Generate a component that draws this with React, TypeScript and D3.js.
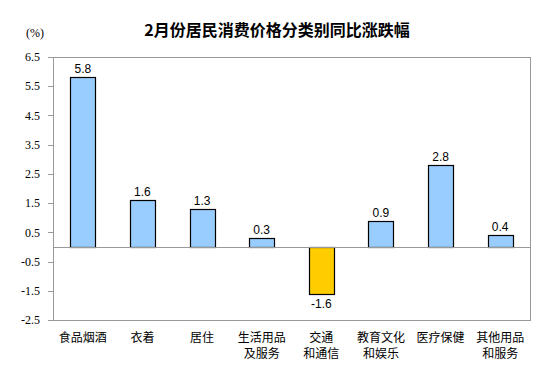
import React, { useEffect, useRef } from 'react';
import * as d3 from 'd3';

const categories = ['食品烟酒', '衣着', '居住', '生活用品\n及服务', '交通\n和通信', '教育文化\n和娱乐', '医疗保健', '其他用品\n和服务'];
const values = [5.8, 1.6, 1.3, 0.3, -1.6, 0.9, 2.8, 0.4];
const yTicks = [6.5, 5.5, 4.5, 3.5, 2.5, 1.5, 0.5, -0.5, -1.5, -2.5];

const App: React.FC = () => {
  const svgRef = useRef<SVGSVGElement>(null);

  useEffect(() => {
    if (!svgRef.current) return;

    const width = 553;
    const height = 384;
    const margin = { top: 57, right: 23, bottom: 64, left: 53 };

    const svg = d3.select(svgRef.current)
      .attr('width', width)
      .attr('height', height)
      .html('');

    const x = d3.scaleBand<string>()
      .domain(categories)
      .range([margin.left, width - margin.right])
      .paddingInner(0.58)
      .paddingOuter(0.29);

    const y = d3.scaleLinear()
      .domain([-2.5, 6.5])
      .range([height - margin.bottom, margin.top]);

    // plot frame
    svg.append('rect')
      .attr('x', margin.left + 0.5)
      .attr('y', y(6.5) + 0.5)
      .attr('width', width - margin.right - margin.left)
      .attr('height', y(-2.5) - y(6.5))
      .attr('fill', 'none')
      .attr('stroke', '#999');

    // y axis ticks
    const yAxis = svg.append('g');
    yAxis.selectAll('line')
      .data(yTicks)
      .enter().append('line')
      .attr('x1', margin.left - 5)
      .attr('x2', margin.left)
      .attr('y1', d => Math.round(y(d)) + 0.5)
      .attr('y2', d => Math.round(y(d)) + 0.5)
      .attr('stroke', '#999');

    yAxis.selectAll('text')
      .data(yTicks)
      .enter().append('text')
      .attr('x', 40)
      .attr('y', d => y(d))
      .attr('dy', '0.35em')
      .attr('text-anchor', 'end')
      .style('font-family', '"Liberation Serif", serif')
      .style('font-size', '12px')
      .attr('fill', '#000')
      .text(d => d);

    // bars
    svg.selectAll('rect.bar')
      .data(values)
      .enter().append('rect')
      .attr('class', 'bar')
      .attr('x', (_, i) => Math.round(x(categories[i])!) + 0.5)
      .attr('y', d => Math.round(y(Math.max(0, d))) + 0.5)
      .attr('width', Math.round(x.bandwidth()))
      .attr('height', d => Math.abs(Math.round(y(d)) - Math.round(y(0))))
      .attr('fill', d => d >= 0 ? '#99CCFF' : '#FFCC00')
      .attr('stroke', '#000')
      .attr('stroke-width', 1.2);

    // zero line
    svg.append('line')
      .attr('x1', margin.left)
      .attr('x2', width - margin.right)
      .attr('y1', Math.round(y(0)) + 0.5)
      .attr('y2', Math.round(y(0)) + 0.5)
      .attr('stroke', '#999');

    // value labels
    svg.selectAll('text.val')
      .data(values)
      .enter().append('text')
      .attr('class', 'val')
      .attr('x', (_, i) => x(categories[i])! + x.bandwidth() / 2)
      .attr('y', d => d >= 0 ? y(d) - 4 : y(d) + 14)
      .attr('text-anchor', 'middle')
      .style('font-family', '"Liberation Sans", Arial, sans-serif')
      .style('font-size', '12px')
      .attr('fill', '#000')
      .text(d => d.toFixed(1));

    // category labels
    const cat = svg.selectAll('text.cat')
      .data(categories)
      .enter().append('text')
      .attr('class', 'cat')
      .attr('x', d => x(d)! + x.bandwidth() / 2)
      .attr('y', 342)
      .attr('text-anchor', 'middle')
      .style('font-family', '"Noto Sans CJK SC", sans-serif')
      .style('font-size', '12px')
      .attr('fill', '#000');

    cat.selectAll('tspan')
      .data(d => d.split('\n'))
      .enter().append('tspan')
      .attr('x', function () { return (this.parentNode as SVGTextElement).getAttribute('x'); })
      .attr('dy', (_, i) => i === 0 ? 0 : 16)
      .text(d => d);

    // title
    svg.append('text')
      .attr('x', 277)
      .attr('y', 36)
      .attr('text-anchor', 'middle')
      .style('font-family', '"Noto Sans CJK SC", sans-serif')
      .style('font-size', '16px')
      .style('font-weight', 'bold')
      .attr('fill', '#000')
      .text('2月份居民消费价格分类别同比涨跌幅');

    svg.append('text')
      .attr('x', 26)
      .attr('y', 37)
      .style('font-family', '"Liberation Serif", serif')
      .style('font-size', '12px')
      .attr('fill', '#000')
      .text('(%)');
  }, []);

  return (
    <svg ref={svgRef} style={{ position: 'absolute', left: 0, top: 0 }}></svg>
  );
};

export default App;
